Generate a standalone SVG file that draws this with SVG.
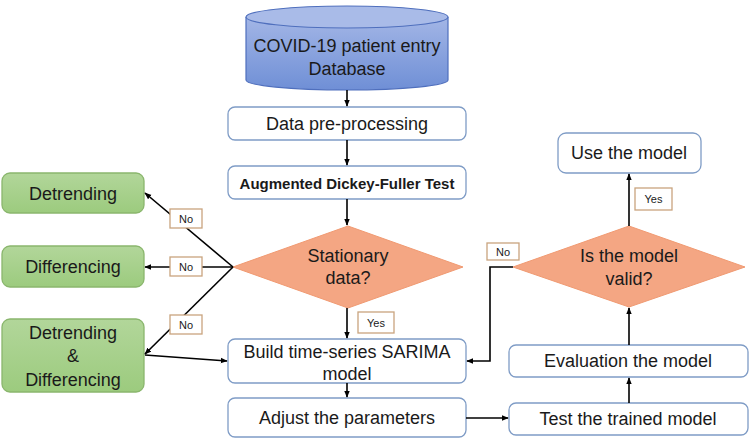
<svg xmlns="http://www.w3.org/2000/svg" width="749" height="441" viewBox="0 0 749 441">
<defs>
<linearGradient id="cyl" x1="0" y1="0" x2="0" y2="1">
<stop offset="0" stop-color="#a3b6e6"/><stop offset="1" stop-color="#6f8fd6"/>
</linearGradient>
<linearGradient id="grn" x1="0" y1="0" x2="0" y2="1">
<stop offset="0" stop-color="#b2d69a"/><stop offset="1" stop-color="#9ccb7e"/>
</linearGradient>
<marker id="ah" viewBox="0 0 10 10" refX="9" refY="5" markerWidth="7" markerHeight="7" orient="auto-start-reverse" markerUnits="userSpaceOnUse">
<path d="M0,1 L10,5 L0,9 z" fill="#000"/>
</marker>
</defs>
<style>
text{font-family:"Liberation Sans",Arial,sans-serif;font-size:18px;fill:#1a1a1a;text-anchor:middle;dominant-baseline:central}
.box{fill:#fff;stroke:#7f9cc6;stroke-width:1.3}
.grn{fill:url(#grn);stroke:#8ab66d;stroke-width:1.3}
.dia{fill:#f4a683;stroke:#f09a72;stroke-width:1}
.lbl{fill:#fff;stroke:#c9a47e;stroke-width:1.3}
.lt{font-size:11px}
.c{fill:none;stroke:#000;stroke-width:1.6;marker-end:url(#ah)}
</style>
<rect width="749" height="441" fill="#fff"/>

<g id="db">
<path d="M246,17 L246,80 A101,10 0 0 0 448,80 L448,17" fill="url(#cyl)" stroke="#4f6fbd" stroke-width="1.2"/>
<ellipse cx="347" cy="17" rx="101" ry="11" fill="#a9bbe8" stroke="#4f6fbd" stroke-width="1.2"/>
<text x="347" y="46">COVID-19 patient entry</text>
<text x="347" y="69">Database</text>
</g>
<g id="prep"><rect class="box" x="228" y="107" width="238" height="33" rx="7"/><text x="347" y="124">Data pre-processing</text></g>
<g id="adf"><rect class="box" x="228" y="166" width="238" height="33" rx="7"/><text x="347" y="183" style="font-weight:bold;font-size:15px">Augmented Dickey-Fuller Test</text></g>
<g id="stat"><polygon class="dia" points="348,226 463,267 348,308 233,267"/><text x="348" y="256">Stationary</text><text x="348" y="278">data?</text></g>
<g id="build"><rect class="box" x="228" y="339" width="238" height="44" rx="7"/><text x="347" y="352">Build time-series SARIMA</text><text x="347" y="374">model</text></g>
<g id="adjust"><rect class="box" x="228" y="398" width="238" height="39" rx="7"/><text x="347" y="418">Adjust the parameters</text></g>
<g id="detr"><rect class="grn" x="2" y="173" width="142" height="40" rx="8"/><text x="73" y="194">Detrending</text></g>
<g id="diff"><rect class="grn" x="2" y="246" width="142" height="41" rx="8"/><text x="73" y="267">Differencing</text></g>
<g id="both"><rect class="grn" x="2" y="319" width="142" height="73" rx="8"/><text x="73" y="333">Detrending</text><text x="73" y="356">&amp;</text><text x="73" y="380">Differencing</text></g>
<g id="use"><rect class="box" x="558" y="133" width="143" height="40" rx="8"/><text x="629" y="153">Use the model</text></g>
<g id="valid"><polygon class="dia" points="629,226 745,267 629,307 513,267"/><text x="629" y="256">Is the model</text><text x="629" y="279">valid?</text></g>
<g id="eval"><rect class="box" x="509" y="345" width="239" height="32" rx="7"/><text x="628" y="361">Evaluation the model</text></g>
<g id="test"><rect class="box" x="509" y="403" width="239" height="32" rx="7"/><text x="628" y="419">Test the trained model</text></g>

<g id="connectors">
<line class="c" x1="347" y1="90" x2="347" y2="106"/>
<line class="c" x1="347" y1="140" x2="347" y2="165"/>
<line class="c" x1="347" y1="199" x2="347" y2="225"/>
<line class="c" x1="347" y1="308" x2="347" y2="338"/>
<line class="c" x1="347" y1="383" x2="347" y2="397"/>
<line class="c" x1="466" y1="418" x2="508" y2="418"/>
<line class="c" x1="629" y1="403" x2="629" y2="378"/>
<line class="c" x1="629" y1="345" x2="629" y2="308"/>
<line class="c" x1="629" y1="226" x2="629" y2="174"/>
<polyline class="c" points="513,267 490,267 490,361 467,361"/>
<line class="c" x1="233" y1="267" x2="145" y2="193"/>
<line class="c" x1="233" y1="267" x2="145" y2="267"/>
<line class="c" x1="233" y1="267" x2="145" y2="354"/>
<line class="c" x1="145" y1="355" x2="227" y2="361"/>
</g>
<g id="labels">
<rect class="lbl" x="170" y="209" width="32" height="19"/><text class="lt" x="186" y="218.5">No</text>
<rect class="lbl" x="170" y="257" width="32" height="19"/><text class="lt" x="186" y="266.5">No</text>
<rect class="lbl" x="170" y="315" width="32" height="19"/><text class="lt" x="186" y="324.5">No</text>
<rect class="lbl" x="358" y="312" width="36" height="21"/><text class="lt" x="376" y="322.5">Yes</text>
<rect class="lbl" x="635" y="188" width="37" height="22"/><text class="lt" x="653.5" y="199">Yes</text>
<rect class="lbl" x="487" y="243" width="32" height="17"/><text class="lt" x="503" y="251.5">No</text>
</g>
</svg>
